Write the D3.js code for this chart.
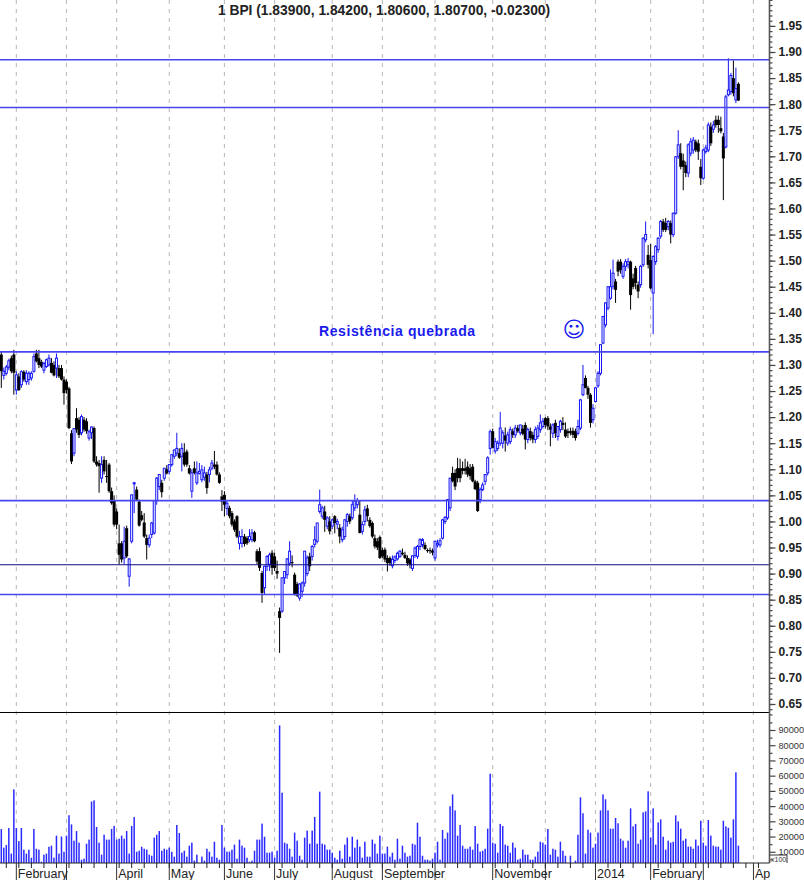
<!DOCTYPE html>
<html><head><meta charset="utf-8">
<script src="https://cdn.jsdelivr.net/npm/d3@7"></script>
<style>html,body{margin:0;padding:0;background:#fff;overflow:hidden}svg{display:block}</style>
</head><body><svg id="c" width="804" height="880"></svg>
<script>
const opens=[1.320,1.280,1.284,1.296,1.313,1.320,1.252,1.278,1.262,1.287,
1.268,1.272,1.275,1.288,1.322,1.313,1.306,1.290,1.297,1.300,
1.304,1.300,1.294,1.294,1.294,1.272,1.268,1.255,1.169,1.131,
1.198,1.195,1.170,1.195,1.192,1.160,1.170,1.179,1.115,1.112,
1.083,1.118,1.087,1.109,1.058,1.040,1.019,.958,.958,.930,
.987,.895,.962,1.074,1.061,1.038,1.012,.998,.968,.955,
.975,.978,1.040,1.067,1.074,1.083,1.100,1.096,1.109,1.125,
1.131,1.131,1.125,1.132,1.134,1.102,1.058,1.102,1.074,1.092,
1.080,1.085,1.090,1.090,1.102,1.109,1.109,1.090,1.048,1.051,
1.025,1.026,1.016,1.000,1.010,.958,.958,.971,.968,.965,
.965,.979,.943,.943,.901,.873,.914,.918,.940,.933,
.905,.828,.828,.892,.898,.920,.922,.898,.880,.853,
.866,.882,.900,.933,.933,.956,.962,1.019,1.010,1.019,
.991,1.000,.991,1.010,.995,.988,.965,.971,1.000,1.010,
1.007,1.026,1.032,1.013,.981,1.000,1.025,1.003,.997,.968,
.962,.970,.945,.946,.930,.930,.915,.925,.928,.933,
.940,.936,.930,.927,.910,.935,.933,.952,.955,.955,
.945,.945,.944,.930,.955,.955,.968,1.000,1.007,1.026,
1.093,1.093,1.102,1.102,1.102,1.102,1.105,1.102,1.105,1.077,
1.074,1.042,1.061,1.077,1.093,1.140,1.173,1.135,1.140,1.150,
1.150,1.165,1.150,1.153,1.173,1.166,1.179,1.170,1.178,1.185,
1.157,1.173,1.166,1.157,1.163,1.176,1.182,1.198,1.198,1.182,
1.169,1.189,1.163,1.176,1.189,1.176,1.173,1.173,1.174,1.173,
1.169,1.179,1.243,1.275,1.256,1.243,1.195,1.230,1.260,1.284,
1.342,1.377,1.409,1.428,1.451,1.460,1.498,1.498,1.470,1.489,
1.492,1.498,1.466,1.486,1.454,1.454,1.492,1.540,1.511,1.501,
1.438,1.498,1.521,1.547,1.575,1.572,1.565,1.572,1.550,1.591,
1.700,1.706,1.692,1.683,1.668,1.706,1.712,1.728,1.725,1.680,
1.658,1.709,1.712,1.757,1.752,1.770,1.770,1.754,1.738,1.718,
1.818,1.824,1.850,1.808,1.839];
const highs=[1.325,1.295,1.300,1.312,1.318,1.329,1.288,1.284,1.290,1.290,
1.290,1.288,1.288,1.322,1.329,1.329,1.310,1.306,1.312,1.320,
1.313,1.307,1.322,1.300,1.300,1.278,1.272,1.258,1.175,1.178,
1.217,1.200,1.205,1.200,1.198,1.176,1.182,1.182,1.125,1.118,
1.125,1.125,1.118,1.112,1.065,1.050,1.025,.994,.962,.990,
.992,.930,1.051,1.076,1.067,1.042,1.020,1.016,.975,.975,
.999,1.040,1.085,1.090,1.080,1.102,1.108,1.110,1.128,1.138,
1.170,1.140,1.150,1.150,1.138,1.108,1.100,1.115,1.115,1.112,
1.108,1.105,1.095,1.105,1.118,1.135,1.115,1.094,1.060,1.058,
1.040,1.030,1.020,1.004,1.012,.982,.985,.976,.972,.985,
.985,.982,.947,.950,.905,.915,.935,.940,.945,.940,
.925,.835,.892,.905,.930,.962,.935,.902,.884,.882,
.885,.943,.935,.940,.955,.991,.997,1.061,1.030,1.030,
1.010,1.010,1.006,1.012,1.005,.995,.990,1.005,1.016,1.015,
1.040,1.052,1.045,1.040,1.000,1.030,1.032,1.008,1.000,.975,
.968,.973,.950,.950,.935,.933,.935,.935,.942,.945,
.948,.942,.935,.930,.935,.952,.955,.968,.968,.960,
.948,.950,.948,.962,.965,.968,1.005,1.010,1.043,1.083,
1.105,1.100,1.122,1.120,1.115,1.120,1.115,1.110,1.110,1.080,
1.078,1.065,1.075,1.090,1.125,1.176,1.178,1.160,1.155,1.210,
1.175,1.180,1.172,1.182,1.178,1.185,1.185,1.185,1.185,1.190,
1.180,1.180,1.172,1.182,1.185,1.205,1.198,1.200,1.202,1.188,
1.188,1.195,1.182,1.195,1.200,1.190,1.178,1.180,1.180,1.178,
1.195,1.235,1.300,1.280,1.260,1.246,1.225,1.258,1.288,1.339,
1.393,1.420,1.451,1.483,1.502,1.465,1.502,1.503,1.495,1.503,
1.505,1.500,1.475,1.490,1.460,1.492,1.545,1.575,1.530,1.532,
1.510,1.530,1.545,1.578,1.580,1.582,1.578,1.577,1.592,1.700,
1.750,1.725,1.705,1.690,1.725,1.735,1.737,1.732,1.732,1.695,
1.715,1.722,1.765,1.765,1.768,1.778,1.778,1.776,1.745,1.818,
1.888,1.860,1.884,1.870,1.842];
const lows=[1.256,1.272,1.280,1.290,1.284,1.243,1.243,1.250,1.256,1.268,
1.262,1.262,1.270,1.285,1.305,1.294,1.294,1.284,1.294,1.297,
1.284,1.278,1.275,1.275,1.270,1.224,1.245,1.177,1.110,1.125,
1.170,1.160,1.165,1.172,1.168,1.155,1.158,1.112,1.105,1.055,
1.074,1.090,1.074,1.055,1.032,.990,.985,.918,.921,.918,
.930,.875,.958,1.016,1.040,.990,1.000,.968,.927,.950,
.968,.975,1.032,1.060,1.046,1.078,1.090,1.090,1.105,1.120,
1.125,1.120,1.096,1.105,1.105,1.090,1.045,1.090,1.070,1.090,
1.075,1.078,1.053,1.075,1.098,1.100,1.088,1.072,1.020,1.010,
1.012,1.006,.990,.980,.968,.946,.950,.952,.955,.960,
.960,.960,.918,.905,.844,.860,.905,.905,.898,.905,
.890,.748,.825,.880,.890,.915,.912,.858,.855,.848,
.855,.875,.895,.905,.925,.950,.958,1.015,1.005,.980,
.985,.975,.985,.977,.985,.958,.960,.965,.990,.995,
1.003,1.020,1.025,.977,.975,.992,1.000,.988,.968,.948,
.945,.928,.930,.922,.904,.915,.910,.920,.925,.930,
.935,.928,.915,.910,.905,.930,.928,.945,.950,.945,
.940,.938,.935,.925,.950,.950,.965,.995,1.003,1.020,
1.075,1.060,1.075,1.075,1.090,1.090,1.085,1.080,1.075,1.060,
1.018,1.035,1.058,1.070,1.088,1.128,1.140,1.130,1.135,1.145,
1.140,1.134,1.145,1.148,1.160,1.160,1.170,1.165,1.165,1.138,
1.150,1.155,1.150,1.150,1.158,1.170,1.178,1.178,1.175,1.144,
1.160,1.160,1.155,1.170,1.175,1.160,1.160,1.165,1.160,1.155,
1.165,1.175,1.240,1.255,1.235,1.180,1.188,1.228,1.256,1.280,
1.340,1.372,1.405,1.425,1.445,1.419,1.470,1.475,1.465,1.480,
1.485,1.406,1.445,1.445,1.428,1.448,1.488,1.535,1.485,1.445,
1.359,1.492,1.515,1.542,1.555,1.555,1.558,1.533,1.545,1.588,
1.695,1.675,1.635,1.660,1.660,1.700,1.705,1.708,1.693,1.645,
1.655,1.705,1.708,1.720,1.745,1.755,1.745,1.744,1.616,1.715,
1.815,1.818,1.815,1.802,1.806];
const closes=[1.288,1.288,1.296,1.308,1.288,1.285,1.281,1.252,1.287,1.272,
1.284,1.284,1.284,1.316,1.307,1.300,1.297,1.303,1.310,1.313,
1.285,1.280,1.313,1.278,1.272,1.246,1.252,1.179,1.115,1.178,
1.176,1.166,1.201,1.176,1.173,1.172,1.181,1.115,1.109,1.106,
1.109,1.096,1.086,1.058,1.035,.994,.994,.936,.927,.962,
.933,.928,1.051,1.074,1.042,.992,1.003,.971,.955,.968,
.997,1.040,1.083,1.090,1.056,1.102,1.092,1.109,1.128,1.137,
1.140,1.122,1.140,1.109,1.109,1.092,1.093,1.093,1.093,1.096,
1.099,1.093,1.064,1.099,1.112,1.105,1.090,1.074,1.038,1.032,
1.035,1.010,.994,.984,.971,.971,.971,.957,.958,.971,
.978,.962,.923,.911,.863,.914,.933,.936,.911,.911,
.900,.815,.892,.904,.928,.943,.920,.860,.858,.880,
.882,.943,.930,.914,.952,.965,.997,1.032,1.026,1.003,
1.007,.981,1.003,.997,1.000,.971,.984,1.003,1.013,1.000,
1.032,1.039,1.040,.978,.994,1.022,1.010,.991,.971,.952,
.950,.930,.933,.927,.920,.920,.927,.932,.939,.943,
.937,.930,.920,.917,.934,.949,.952,.965,.965,.947,
.944,.944,.940,.962,.958,.963,1.003,1.008,1.042,1.083,
1.077,1.067,1.083,1.083,1.097,1.097,1.090,1.087,1.077,1.062,
1.020,1.061,1.070,1.090,1.122,1.172,1.141,1.153,1.150,1.179,
1.170,1.155,1.166,1.176,1.166,1.179,1.173,1.185,1.168,1.157,
1.176,1.160,1.157,1.176,1.179,1.189,1.192,1.185,1.182,1.176,
1.185,1.169,1.182,1.192,1.185,1.163,1.169,1.170,1.166,1.160,
1.182,1.233,1.262,1.256,1.243,1.189,1.217,1.256,1.284,1.339,
1.393,1.419,1.450,1.450,1.476,1.444,1.479,1.482,1.489,1.498,
1.498,1.434,1.450,1.457,1.441,1.489,1.543,1.550,1.492,1.447,
1.508,1.527,1.543,1.575,1.559,1.559,1.575,1.550,1.591,1.699,
1.722,1.680,1.680,1.668,1.722,1.728,1.731,1.712,1.709,1.658,
1.712,1.716,1.760,1.725,1.760,1.760,1.760,1.748,1.696,1.814,
1.827,1.855,1.821,1.830,1.807];
const volumes=[25000,12700,14400,25600,8800,51000,25600,17000,25600,11400,
8800,11400,6100,25000,12000,11400,3500,8100,8800,13300,
14000,6100,20600,8800,20000,10000,20600,34000,28000,17300,
23600,16000,4800,5500,15300,18000,43000,43800,26300,16000,
8100,21200,18000,18000,25000,27000,18000,18600,20600,18600,
23600,8800,27000,32800,10000,10700,13300,12000,11400,8100,
7400,19300,21200,23600,10700,12000,11400,12700,10000,6800,
27600,22300,9400,10700,6800,14000,16000,4200,8100,2000,
6800,4200,12000,10100,6800,16600,6100,4800,27600,12700,
10100,10100,11400,14700,5500,18000,14000,12700,6100,3500,
4200,10700,18000,18000,28500,19900,9400,9400,10100,6100,
10700,93000,48800,
16000,15300,12000,6800,22600,17300,7400,4800,19300,23900,
15300,23900,32900,15300,49500,15300,14700,11400,11400,9400,
6100,4800,10700,5500,14700,19300,6800,19900,12700,18000,
13400,6100,16600,6800,6800,18000,15300,8800,20600,8800,
8800,13400,6800,9400,4800,18600,5500,14000,9400,6800,
7400,15300,14700,29100,19900,7400,4800,4800,4200,5500,
9400,16600,4800,24300,18600,22600,39900,47700,37200,20600,
27600,14000,12000,12000,13400,11400,26900,15300,10100,10700,
12000,25200,61300,16000,15300,9400,28300,26900,14700,14000,
9400,16000,12700,4800,5500,11400,8100,8100,4800,4800,
6800,10100,16600,16000,14700,25000,8100,12000,11400,6800,
16600,10700,7400,2000,7400,2000,4200,21200,45800,35300,
8800,24500,22600,12700,15300,22600,37200,47700,44500,37200,
25200,25200,32200,28700,18600,17300,12700,17300,38500,26700,
28300,15300,18000,35900,36600,49700,19300,38500,14700,29300,
31300,19900,11400,17300,16000,16600,33900,30000,25200,17300,
18600,13400,13400,12000,18000,14000,30400,16000,14000,30900,
20600,14000,13400,13400,11400,30400,26700,25800,19300,31300,
62200,14000];
const blueLevels=[1.885,1.7935,1.325,1.04,0.86];
const darkLevel=[0.917];
const monthAt=[6,26,46,67,89,109,132,152,173,196,217,237,259,280,300];
const monthLabels=["February","","April","May","June","July","August","September","","November","","2014","February","","Ap"];
const priceMajor=d3.range(0,27).map(k=>+(0.65+k*0.05).toFixed(2));
const priceMinor=d3.range(0,138).map(k=>+(0.63+k*0.01).toFixed(2));
const volMajor=[10000,20000,30000,40000,50000,60000,70000,80000,90000];
const volMinor=[5000,15000,25000,35000,45000,55000,65000,75000,85000,95000];
const title="1 BPI (1.83900, 1.84200, 1.80600, 1.80700, -0.02300)";
const note="Resistência quebrada";

const svg=d3.select("#c");
const AX=769.5, BASE=863;
const x=d3.scaleLinear().domain([0,294]).range([1.3,738.4]);
const y=d3.scaleLinear().domain([0.65,1.90]).range([704,52]);
const v=d3.scaleLinear().domain([0,90000]).range([867,730]);
const base=v.invert(BASE);

// grid
svg.append("g").selectAll("line").data(monthAt).join("line")
 .attr("x1",d=>x(d)).attr("x2",d=>x(d)).attr("y1",0).attr("y2",BASE)
 .attr("stroke","#bdbdbd").attr("stroke-width",1.1).attr("stroke-dasharray","4,5");

// candles
const idx=d3.range(closes.length);
const g=svg.append("g");
g.selectAll("line").data(idx).join("line")
 .attr("x1",i=>x(i)).attr("x2",i=>x(i)).attr("y1",i=>y(highs[i])).attr("y2",i=>y(lows[i]))
 .attr("stroke",i=>closes[i]>=opens[i]?"#1414f5":"#000").attr("stroke-width",1);
g.selectAll("rect").data(idx).join("rect")
 .attr("x",i=>x(i)-(closes[i]>=opens[i]?1:1.5))
 .attr("width",i=>closes[i]>=opens[i]?2:3)
 .attr("y",i=>y(Math.max(opens[i],closes[i])))
 .attr("height",i=>Math.max(1,Math.abs(y(opens[i])-y(closes[i]))))
 .attr("fill",i=>closes[i]>=opens[i]?"#fff":"#000")
 .attr("stroke",i=>closes[i]>=opens[i]?"#1414f5":"none")
 .attr("stroke-width",1);

// levels
svg.append("g").selectAll("line").data(blueLevels).join("line")
 .attr("x1",0).attr("x2",AX).attr("y1",d=>y(d)).attr("y2",d=>y(d))
 .attr("stroke","#4646f0").attr("stroke-width",1.6);
svg.append("g").selectAll("line").data(darkLevel).join("line")
 .attr("x1",0).attr("x2",AX).attr("y1",d=>y(d)).attr("y2",d=>y(d))
 .attr("stroke","#0c0c80").attr("stroke-width",1.2);

// pane divider
svg.append("line").attr("x1",0).attr("x2",AX).attr("y1",712.5).attr("y2",712.5).attr("stroke","#000").attr("stroke-width",1);

// volume
svg.append("g").selectAll("rect").data(volumes.map((d,i)=>[i,d])).join("rect")
 .attr("x",d=>x(d[0])-0.75).attr("width",1.5)
 .attr("y",d=>v(Math.max(d[1],base))).attr("height",d=>BASE-v(Math.max(d[1],base)))
 .attr("fill","#2a2aff");

// axes
function styleAxis(s){s.select(".domain").remove();s.selectAll("line").attr("stroke","#444").attr("stroke-width",1.2);}
svg.append("g").attr("transform",`translate(${AX},0)`)
 .call(d3.axisRight(y).tickValues(priceMinor).tickSize(3).tickFormat(""))
 .call(styleAxis);
svg.append("g").attr("transform",`translate(${AX},0)`)
 .call(d3.axisRight(y).tickValues(priceMajor).tickSize(6).tickPadding(3).tickFormat(d3.format(".2f")))
 .call(styleAxis)
 .call(s=>s.selectAll("text").attr("font-family","Liberation Sans").attr("font-weight","bold").attr("font-size",12).attr("fill","#222"));
svg.append("g").attr("transform",`translate(${AX},0)`)
 .call(d3.axisRight(v).tickValues(volMinor).tickSize(3).tickFormat(""))
 .call(styleAxis);
svg.append("g").attr("transform",`translate(${AX},0)`)
 .call(d3.axisRight(v).tickValues(volMajor).tickSize(6).tickPadding(3).tickFormat(d3.format("d")))
 .call(styleAxis)
 .call(s=>s.selectAll("text").attr("font-family","Liberation Sans").attr("font-size",9.2).attr("fill","#333"));
svg.append("line").attr("x1",AX).attr("x2",AX).attr("y1",0).attr("y2",BASE).attr("stroke","#555").attr("stroke-width",1.6);

// bottom axis
svg.append("line").attr("x1",0).attr("x2",AX).attr("y1",BASE).attr("y2",BASE).attr("stroke","#222").attr("stroke-width",1);
svg.append("g").selectAll("line").data(d3.range(2,305,5)).join("line")
 .attr("x1",d=>x(d)).attr("x2",d=>x(d)).attr("y1",BASE).attr("y2",BASE+5).attr("stroke","#222").attr("stroke-width",1);
svg.append("g").selectAll("line").data(monthAt).join("line")
 .attr("x1",d=>x(d)).attr("x2",d=>x(d)).attr("y1",BASE).attr("y2",880).attr("stroke","#333").attr("stroke-width",1);
svg.append("g").selectAll("text").data(monthAt.map((d,i)=>[d,monthLabels[i]]).filter(d=>d[1])).join("text")
 .attr("x",d=>x(d[0])+1.5).attr("y",878).text(d=>d[1])
 .attr("font-family","Liberation Sans").attr("font-size",12.5).attr("fill","#222");

// x100 box
svg.append("path").attr("d",`M${AX},855H787V863`).attr("fill","none").attr("stroke","#333").attr("stroke-width",1);
svg.append("text").attr("x",771).attr("y",862).text("x100").attr("font-family","Liberation Sans").attr("font-size",7).attr("fill","#333");

// title & notes
svg.append("text").attr("x",384).attr("y",14.5).attr("text-anchor","middle").text(title)
 .attr("font-family","Liberation Sans").attr("font-weight","bold").attr("font-size",13.8).attr("fill","#222");
svg.append("text").attr("x",319).attr("y",336).text(note)
 .attr("font-family","Liberation Sans").attr("font-weight","bold").attr("font-size",14).attr("letter-spacing",0.6).attr("fill","#1a1aee");
svg.append("text").attr("x",574).attr("y",337).attr("text-anchor","middle").text("☺")
 .attr("font-family","DejaVu Sans").attr("font-size",22).attr("fill","#1a1aee");
</script></body></html>
